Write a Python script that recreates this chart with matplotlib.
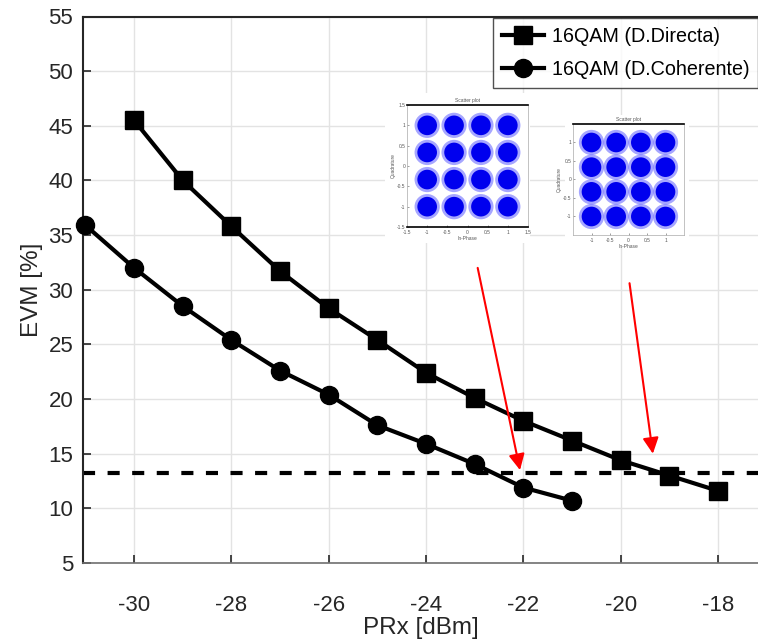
import numpy as np
import matplotlib
matplotlib.use("Agg")
import matplotlib.pyplot as plt
from matplotlib.patches import Rectangle

plt.rcParams['font.family'] = ['Liberation Sans', 'DejaVu Sans']
plt.rcParams['axes.unicode_minus'] = False

# data
prx_directa = [-30, -29, -28, -27, -26, -25, -24, -23, -22, -21, -20, -19, -18]
evm_directa = [45.5, 40.0, 35.8, 31.7, 28.3, 25.4, 22.4, 20.1, 18.0, 16.2, 14.4, 13.0, 11.6]
prx_coherente = [-31, -30, -29, -28, -27, -26, -25, -24, -23, -22, -21]
evm_coherente = [35.9, 32.0, 28.5, 25.4, 22.6, 20.4, 17.6, 15.9, 14.05, 11.9, 10.7]
evm_limit = 13.2
labels = ["16QAM (D.Directa)", "16QAM (D.Coherente)"]

# arrows: (start, tip) in data coordinates
arrows = [((-22.94, 32.0), (-22.07, 13.5)),
          ((-19.82, 30.6), (-19.34, 15.0))]

# 16QAM ideal constellation levels
levels = [-1, -1/3, 1/3, 1]

W, H = 758, 643
fig = plt.figure(figsize=(7.58, 6.43), dpi=100)
ax = fig.add_axes([83/W, 1 - 563/H, 1 - 83/W, (563 - 16.5)/H])

ax.plot(prx_directa, evm_directa, color='black', lw=3, marker='s', ms=12.5,
        label=labels[0], zorder=3)
ax.plot(prx_coherente, evm_coherente, color='black', lw=3, marker='o', ms=13,
        label=labels[1], zorder=3, clip_on=False)
ax.axhline(evm_limit, color='black', lw=3, ls=(0, (2.9, 3.0)), zorder=2)

for (x0, y0), (x1, y1) in arrows:
    ax.annotate("", xy=(x1, y1), xytext=(x0, y0),
                arrowprops=dict(arrowstyle='-|>', color='red', lw=1.5,
                                mutation_scale=24, shrinkA=0, shrinkB=0))

ax.set_xlim(-31.05, -17.18)
ax.set_ylim(5, 55)
ax.set_xticks([-30, -28, -26, -24, -22, -20, -18])
ax.set_yticks(range(5, 60, 5))
ax.tick_params(direction='in', length=6, width=1.2, labelsize=16,
               colors='#262626')
ax.tick_params(axis='y', pad=7)
ax.tick_params(axis='x', pad=23)
ax.grid(True, color='#e3e3e3', lw=1)
ax.set_axisbelow(True)
for side in ['left', 'top']:
    ax.spines[side].set_color('#262626')
    ax.spines[side].set_linewidth(1.5)
ax.spines['bottom'].set_color('#707070')
ax.spines['bottom'].set_linewidth(1.2)
ax.spines['right'].set_visible(False)
ax.set_xlabel("PRx [dBm]", fontsize=17.5, color='#262626', labelpad=1)
ax.set_ylabel("EVM [%]", fontsize=17.5, color='#262626', labelpad=4)

leg = ax.legend(loc='upper right', fontsize=14.2, frameon=True,
                fancybox=False, edgecolor='#262626', handlelength=2.1,
                borderpad=0.45, labelspacing=0.7, handletextpad=0.4,
                borderaxespad=0)
leg.get_frame().set_linewidth(1.0)
leg.set_bbox_to_anchor((1.0, 1 - 18/H), transform=fig.transFigure)

# white backgrounds behind the constellation images
for (l, t, r, b) in [(385, 93, 530, 243), (565, 115, 689, 247)]:
    fig.patches.append(Rectangle((l/W, 1 - b/H), (r - l)/W, (b - t)/H,
                                 transform=fig.transFigure, facecolor='white',
                                 edgecolor='none', zorder=1))

insets = [((407, 105, 528, 227), [-1.5, -1, -0.5, 0, 0.5, 1, 1.5], True),
          ((573, 124, 684, 235), [-1, -0.5, 0, 0.5, 1], False)]
for (l, t, r, b), ticks, dark_bottom in insets:
    iax = fig.add_axes([l/W, 1 - b/H, (r - l)/W, (b - t)/H], zorder=2)
    gx, gy = np.meshgrid(levels, levels)
    iax.scatter(gx.ravel(), gy.ravel(), s=330, color='#3a3aff', alpha=0.45,
                edgecolors='none')
    iax.scatter(gx.ravel(), gy.ravel(), s=200, color='#0000ee',
                edgecolors='none')
    iax.set_xlim(-1.5, 1.5)
    iax.set_ylim(-1.5, 1.5)
    iax.set_xticks(ticks)
    iax.set_yticks(ticks[::-1])
    iax.set_xticklabels([f"{v:g}" for v in ticks])
    iax.set_yticklabels([f"{v:g}" for v in ticks[::-1]])
    iax.tick_params(labelsize=3.5, length=1.5, width=0.4, pad=1,
                    colors='#555555', direction='in')
    iax.tick_params(axis='x', pad=2)
    iax.set_title("Scatter plot", fontsize=3.5, pad=2, color='#555555')
    iax.set_xlabel("In-Phase", fontsize=3.5, labelpad=1, color='#555555')
    iax.set_ylabel("Quadrature", fontsize=3.5, labelpad=1, color='#555555')
    for s in iax.spines.values():
        s.set_color('#aaaaaa')
        s.set_linewidth(0.5)
    iax.spines['top'].set_color('black')
    iax.spines['top'].set_linewidth(1.2)
    if dark_bottom:
        iax.spines['bottom'].set_color('black')
        iax.spines['bottom'].set_linewidth(1.2)

fig.savefig("out.png", dpi=100)
